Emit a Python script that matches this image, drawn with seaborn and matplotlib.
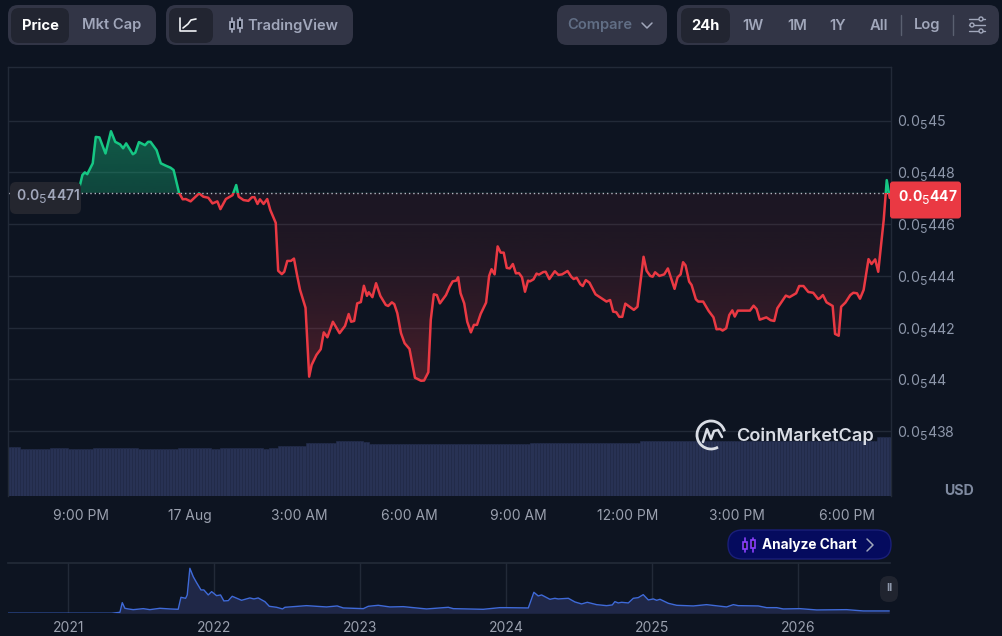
"""
CoinMarketCap style 24h price chart with volume bars and a small all-time strip.
"""

import numpy as np
import pandas as pd
import matplotlib
matplotlib.use("Agg")
import matplotlib.pyplot as plt
import matplotlib._mathtext as mathtext_core
from matplotlib.patches import Arc, Circle, FancyBboxPatch, Rectangle
import seaborn as sns

W, H = 1002, 636

BG = "#0d1421"
GRID = "#222a38"
GREEN = "#16c784"
RED = "#ea3943"
TICK = "#8d97aa"
TIME_TICK = "#9aa0ae"

# --- Data ---
# minutes from midnight 17 Aug, price in millionths of a USD
price_minutes = [
    -288, -258, -230, -201, -188, -181, -177, -173, -169, -160, -155, -149, -139, -130, -123,
    -115, -110, -105, -94, -90, -84, -74, -69, -65, -55, -48, -40, -32, -27, -18,
    -12, -7, 1, 15, 22, 30, 37, 45, 50, 59, 70, 76, 80, 88, 96,
    102, 106, 111, 115, 121, 127, 132, 141, 145, 151, 155, 160, 166, 171, 176,
    181, 190, 196, 200, 208, 215, 220, 226, 235, 246, 255, 261, 265, 270, 275,
    281, 286, 291, 294, 300, 306, 313, 322, 326, 332, 336, 341, 347, 353, 361,
    370, 380, 385, 392, 396, 401, 406, 411, 421, 427, 432, 438, 441, 445, 451,
    456, 462, 467, 472, 478, 487, 492, 496, 501, 506, 511, 516, 521, 526, 531,
    536, 541, 546, 551, 556, 559, 565, 570, 574, 581, 585, 591, 600, 606, 612,
    621, 627, 631, 636, 642, 646, 651, 657, 667, 674, 685, 691, 696, 701, 706,
    711, 716, 730, 736, 746, 751, 757, 761, 765, 772, 780, 786, 797, 802, 807,
    811, 815, 821, 825, 832, 836, 844, 853, 861, 866, 872, 876, 882, 887, 892,
    896, 901, 921, 927, 932, 937, 948, 955, 961, 966, 980, 986, 997, 1002, 1009,
    1017, 1025, 1033, 1036, 1041, 1047, 1057, 1061, 1067, 1071, 1078, 1086, 1091, 1097, 1102,
    1108, 1116, 1121, 1127, 1132, 1141, 1146, 1151,
]
price_values = [
    4.4705, 4.4682, 4.4693, 4.4682, 4.4701, 4.4751, 4.4790, 4.4800, 4.4793, 4.4835, 4.4937, 4.4935, 4.4873, 4.4959, 4.4918,
    4.4908, 4.4893, 4.4912, 4.4870, 4.4876, 4.4917, 4.4905, 4.4918, 4.4918, 4.4886, 4.4835, 4.4826, 4.4818, 4.4809, 4.4721,
    4.4696, 4.4697, 4.4688, 4.4719, 4.4706, 4.4702, 4.4680, 4.4688, 4.4658, 4.4697, 4.4712, 4.4751, 4.4706, 4.4693, 4.4690,
    4.4704, 4.4704, 4.4678, 4.4696, 4.4678, 4.4697, 4.4655, 4.4605, 4.4420, 4.4407, 4.4416, 4.4458, 4.4458, 4.4467, 4.4404,
    4.4346, 4.4277, 4.4011, 4.4056, 4.4095, 4.4117, 4.4182, 4.4163, 4.4223, 4.4179, 4.4207, 4.4253, 4.4223, 4.4226, 4.4294,
    4.4299, 4.4362, 4.4323, 4.4337, 4.4318, 4.4372, 4.4323, 4.4288, 4.4284, 4.4298, 4.4291, 4.4256, 4.4179, 4.4140, 4.4118,
    4.4007, 4.3995, 4.3996, 4.4028, 4.4230, 4.4329, 4.4326, 4.4294, 4.4326, 4.4358, 4.4379, 4.4382, 4.4395, 4.4333, 4.4294,
    4.4223, 4.4182, 4.4211, 4.4211, 4.4253, 4.4297, 4.4400, 4.4426, 4.4406, 4.4514, 4.4490, 4.4490, 4.4431, 4.4429, 4.4446,
    4.4410, 4.4411, 4.4395, 4.4339, 4.4382, 4.4379, 4.4387, 4.4409, 4.4405, 4.4415, 4.4416, 4.4388, 4.4418, 4.4404, 4.4406,
    4.4419, 4.4397, 4.4388, 4.4393, 4.4368, 4.4361, 4.4384, 4.4374, 4.4329, 4.4318, 4.4301, 4.4307, 4.4262, 4.4260, 4.4242,
    4.4242, 4.4293, 4.4269, 4.4281, 4.4474, 4.4420, 4.4400, 4.4397, 4.4414, 4.4400, 4.4406, 4.4429, 4.4350, 4.4395, 4.4406,
    4.4453, 4.4441, 4.4378, 4.4365, 4.4310, 4.4301, 4.4301, 4.4265, 4.4240, 4.4194, 4.4195, 4.4189, 4.4198, 4.4249, 4.4267,
    4.4243, 4.4266, 4.4266, 4.4285, 4.4272, 4.4231, 4.4240, 4.4229, 4.4226, 4.4275, 4.4324, 4.4318, 4.4333, 4.4361, 4.4361,
    4.4338, 4.4335, 4.4311, 4.4314, 4.4326, 4.4298, 4.4284, 4.4176, 4.4169, 4.4281, 4.4297, 4.4326, 4.4335, 4.4333, 4.4312,
    4.4346, 4.4465, 4.4446, 4.4464, 4.4416, 4.4616, 4.4770, 4.4701,
]
open_price = 4.4721

y_ticks = [4.38, 4.40, 4.42, 4.44, 4.46, 4.48, 4.50]
y_tick_labels = ["0.0$_5$438", "0.0$_5$44", "0.0$_5$442", "0.0$_5$444", "0.0$_5$446", "0.0$_5$448", "0.0$_5$45"]
x_ticks = [-180, 0, 180, 360, 540, 720, 900, 1080]
x_tick_labels = ["9:00 PM", "17 Aug", "3:00 AM", "6:00 AM", "9:00 AM", "12:00 PM", "3:00 PM", "6:00 PM"]

# volume stays flat for long stretches, so keep it as level + number of 5 min bars
volume_levels = [48.7, 47.0, 48.3, 47.3, 48.3, 47.3, 48.3, 47.3, 48.3, 47.0, 48.3, 49.7, 53.3,
                 55.0, 53.7, 52.0, 52.0, 52.7, 53.3, 54.7, 55.3, 59.3]
volume_bars = [4, 10, 6, 8, 15, 13, 11, 3, 14, 2, 3, 9, 10, 9, 2, 42, 11, 19, 17, 18, 60, 5]

mini_years = [
    2020.587, 2021.0, 2021.297, 2021.354, 2021.37, 2021.388, 2021.411, 2021.445, 2021.514, 2021.559,
    2021.628, 2021.696, 2021.753, 2021.772, 2021.804, 2021.815, 2021.833, 2021.856, 2021.879, 2021.909,
    2021.929, 2021.959, 2021.982, 2022.016, 2022.043, 2022.066, 2022.096, 2022.123, 2022.187, 2022.244,
    2022.272, 2022.301, 2022.347, 2022.377, 2022.427, 2022.468, 2022.484, 2022.632, 2022.769, 2022.842,
    2022.884, 2023.021, 2023.055, 2023.123, 2023.203, 2023.295, 2023.454, 2023.603, 2023.637, 2023.842,
    2023.956, 2024.002, 2024.151, 2024.189, 2024.219, 2024.242, 2024.299, 2024.333, 2024.356, 2024.425,
    2024.47, 2024.516, 2024.555, 2024.619, 2024.687, 2024.726, 2024.744, 2024.767, 2024.79, 2024.836,
    2024.87, 2024.904, 2024.938, 2024.973, 2025.007, 2025.03, 2025.053, 2025.11, 2025.167, 2025.281,
    2025.372, 2025.509, 2025.555, 2025.589, 2025.726, 2025.783, 2025.852, 2025.897, 2026.011, 2026.126,
    2026.331, 2026.445, 2026.623,
]
mini_values = [
    0, 0, 0, 2, 21.3, 10, 8.7, 7.3, 9.3, 7.3,
    10, 8.7, 8, 32, 30, 36.7, 90, 73.3, 61.3, 46.7,
    46.7, 36.7, 43.3, 35.3, 36.7, 24.7, 25.3, 34, 26, 30.7,
    28.7, 30.7, 23.3, 14, 12, 8.7, 12, 15.3, 12.7, 14.7,
    10.7, 9.3, 14, 16, 12.7, 13.3, 8.7, 12, 9.3, 8,
    11.3, 11.3, 10.7, 42, 34.7, 36.7, 28, 30, 28.7, 30,
    22.7, 18.7, 22, 17.3, 15.3, 16.7, 23.3, 20.7, 22, 20.7,
    30, 31.3, 37.3, 26.7, 28.7, 26, 28, 20, 16, 14.7,
    17.3, 12.7, 17.3, 15.3, 14.7, 11.3, 11.3, 8.7, 9.3, 6.7,
    7.3, 4.7, 4.7,
]
mini_ticks = [2021, 2022, 2023, 2024, 2025, 2026]

# --- Style ---
sns.set_theme(style="dark", rc={
    "figure.facecolor": BG,
    "axes.facecolor": BG,
    "axes.edgecolor": GRID,
    "grid.color": GRID,
    "xtick.color": TICK,
    "ytick.color": TICK,
    "text.color": TICK,
})
plt.rcParams["font.family"] = ["Inter", "DejaVu Sans"]
plt.rcParams["mathtext.fontset"] = "custom"
plt.rcParams["mathtext.rm"] = "Inter"
plt.rcParams["mathtext.default"] = "rm"

# the site's subscript 5 is bigger and sits lower than mathtext's default
mathtext_core.SHRINK_FACTOR = 0.88
mathtext_core.FontConstantsBase.sub1 = 0.42

fig = plt.figure(figsize=(W / 100, H / 100), dpi=100)


def px_axes(left, top, right, bottom):
    return fig.add_axes([left / W, 1 - bottom / H, (right - left) / W, (bottom - top) / H])


# ─────────────────────────────────────────────
# Volume bars
# ─────────────────────────────────────────────
xlim = (-300.2, 1153)
ylim = (4.355, 4.5207)

vol_ax = px_axes(7.5, 67, 891, 496)
vol_heights = np.repeat(volume_levels, volume_bars)
bar_edges = -300 + 5 * np.arange(len(vol_heights) + 1)
sns.histplot(x=bar_edges[:-1] + 2.5, weights=vol_heights, bins=bar_edges.tolist(), ax=vol_ax,
             color="#283254", edgecolor="#222b49", linewidth=0.5, alpha=1)
vol_ax.set_xlim(xlim)
vol_ax.set_ylim(0, 429)
vol_ax.axis("off")

# ─────────────────────────────────────────────
# Price line
# ─────────────────────────────────────────────
ax = px_axes(7.5, 67, 891, 496)
ax.patch.set_alpha(0)
prices = pd.DataFrame({"minute": price_minutes, "price": price_values})

# area fill: one gradient image, clipped to the shape between line and open price
rows = np.linspace(ylim[1], ylim[0], 500)
gradient = np.zeros((500, 1, 4))
for i, value in enumerate(rows):
    if value >= open_price:
        strength = (value - open_price) / (4.4959 - open_price)
        gradient[i, 0] = (*matplotlib.colors.to_rgb(GREEN), 0.28 + 0.12 * min(strength, 1))
    else:
        strength = (open_price - value) / (open_price - 4.3995)
        gradient[i, 0] = (*matplotlib.colors.to_rgb(RED), 0.07 + 0.21 * min(strength, 1) ** 1.8)

area = ax.fill_between(prices["minute"], prices["price"], open_price, color="none")
image = ax.imshow(gradient, extent=(*xlim, *ylim), aspect="auto", zorder=1.5)
image.set_clip_path(area.get_paths()[0], transform=ax.transData)

for color, y0, y1 in [(GREEN, open_price, ylim[1]), (RED, ylim[0], open_price)]:
    sns.lineplot(data=prices, x="minute", y="price", ax=ax, color=color, linewidth=1.8,
                 estimator=None, sort=False, zorder=3)
    ax.lines[-1].set_clip_path(Rectangle((xlim[0], y0), xlim[1] - xlim[0], y1 - y0, transform=ax.transData))

ax.axhline(open_price, color="#b4b8c2", linewidth=1, linestyle=(0, (1, 2.1)), zorder=2.5)

ax.set_xlim(xlim)
ax.set_ylim(ylim)
ax.set_xlabel("")
ax.set_ylabel("")
ax.yaxis.tick_right()
ax.set_yticks(y_ticks, y_tick_labels)
ax.set_xticks(x_ticks, x_tick_labels)
ax.tick_params(axis="y", length=0, pad=4.2, labelsize=10.2, labelcolor=TICK)
ax.tick_params(axis="x", length=0, pad=9.5, labelsize=10, labelcolor=TIME_TICK)
ax.grid(True, axis="y", color=GRID, linewidth=1)
ax.grid(False, axis="x")
ax.spines["bottom"].set_visible(False)
for side in ["left", "top", "right"]:
    ax.spines[side].set_color(GRID)
    ax.spines[side].set_linewidth(1)

# ─────────────────────────────────────────────
# All-time strip
# ─────────────────────────────────────────────
mini = px_axes(7.5, 563.3, 890, 613.3)
mini.patch.set_alpha(0)
sns.lineplot(x=mini_years, y=mini_values, ax=mini, color="#3f6ad8", linewidth=1, estimator=None, zorder=3)
mini.fill_between(mini_years, mini_values, 0, color="#1f2747", linewidth=0, zorder=2)
mini.set_xlim(2020.584, 2026.628)
mini.set_ylim(0, 100)
mini.set_yticks([])
mini.set_xticks(mini_ticks, [str(y) for y in mini_ticks])
mini.tick_params(axis="x", length=0, pad=5.6, labelsize=10, labelcolor=TIME_TICK)
mini.grid(True, axis="x", color=GRID, linewidth=1)
mini.grid(False, axis="y")
for side in ["left", "bottom", "right"]:
    mini.spines[side].set_visible(False)
mini.spines["top"].set_color(GRID)

# ─────────────────────────────────────────────
# Buttons, labels, logo
# ─────────────────────────────────────────────
ui = fig.add_axes([0, 0, 1, 1], zorder=5)
ui.set_xlim(0, W)
ui.set_ylim(H, 0)
ui.axis("off")


def pill(x0, y0, x1, y1, color, radius=10, edge="none"):
    ui.add_patch(FancyBboxPatch((x0, y0), x1 - x0, y1 - y0, boxstyle=f"round,pad=0,rounding_size={radius}",
                                facecolor=color, edgecolor=edge, linewidth=1))


def label(x, y, text, color="#a1a7bb", size=10.6, weight="semibold", ha="center"):
    ui.text(x, y, text, color=color, fontsize=size, fontweight=weight, ha=ha, va="center")


def candles(x, y, color, lw=1.3):
    for cx, top, bot in [(x - 4, -3, 4), (x + 4, -5, 3)]:
        ui.plot([cx, cx], [y - 7, y + 7], color=color, linewidth=lw)
        ui.add_patch(Rectangle((cx - 2.2, y + top), 4.4, bot - top, facecolor=BG, edgecolor=color, linewidth=lw, zorder=3))


PANEL = "#323546"
ACTIVE = "#222531"
pill(8, 5, 156, 45, PANEL)
pill(11, 8, 69, 43, ACTIVE, 8)
label(40, 25.5, "Price", "#ffffff", weight="bold")
label(112, 25.5, "Mkt Cap")

pill(166, 5, 353, 45, PANEL)
pill(169, 8, 213, 43, ACTIVE, 8)
ui.plot([180, 180, 196], [18, 31, 31], color="#f0f2f5", linewidth=1.2)
ui.plot([183, 188, 191, 196], [28, 24, 20, 19], color="#f0f2f5", linewidth=1.2)
candles(236, 25, "#a1a7bb")
label(293, 25.5, "TradingView")

pill(557, 5, 667, 45, PANEL)
label(600, 25.5, "Compare", "#616e85")
ui.plot([642, 647, 652], [23, 28, 23], color="#a1a7bb", linewidth=1.1)

pill(677, 5, 999, 45, PANEL)
pill(681, 8, 730, 43, ACTIVE, 8)
label(705, 25.5, "24h", "#ffffff", weight="bold")
for x, text in [(753, "1W"), (797, "1M"), (838, "1Y"), (879, "All"), (927, "Log")]:
    label(x, 25.5, text)
for x in [901, 953]:
    ui.plot([x, x], [15, 35], color="#5a6070", linewidth=1)
for y, dot in [(19, 981), (25, 972), (31, 981)]:
    ui.plot([969, 985], [y, y], color="#a1a7bb", linewidth=1)
    ui.add_patch(Circle((dot, y), 2, facecolor=PANEL, edgecolor="#a1a7bb", linewidth=1, zorder=3))

# open price tag and last price tag
pill(10, 182, 81, 214, "#24262f", 6)
label(16, 197, "0.0$_5$4471", "#a1a7bb", 10, ha="left")
pill(890, 181.5, 961, 218.5, RED, 3)
label(898, 198, "0.0$_5$447", "#ffffff", 10, "bold", ha="left")

label(959, 491, "USD", "#7f8aa0", 10.2, "bold")

# logo
logo = "#d9dde5"
ui.add_patch(Arc((711, 435), 28, 28, theta1=60, theta2=345, color=logo, linewidth=2))
ui.plot([703, 707, 711, 714, 718, 722], [442, 429, 439, 431, 430, 437], color=logo, linewidth=1.8)
label(736, 436, "CoinMarketCap", logo, 13.1, "semibold", ha="left")

# analyze button
pill(728, 530, 891, 559, "#050b5e", 14.5, edge="#1a1f78")
candles(749, 545, "#8a3ffc", 1.2)
label(762, 545.5, "Analyze Chart", "#ffffff", 9.8, "bold", ha="left")
ui.plot([867, 873, 867], [539, 545, 551], color="#a1a7bb", linewidth=1.1)

# pause handle
pill(880, 576, 898, 602, "#20242f", 8.5)
label(889, 588, "II", "#8d97aa", 8, "bold")

fig.savefig("out.png", dpi=100, facecolor=BG)
